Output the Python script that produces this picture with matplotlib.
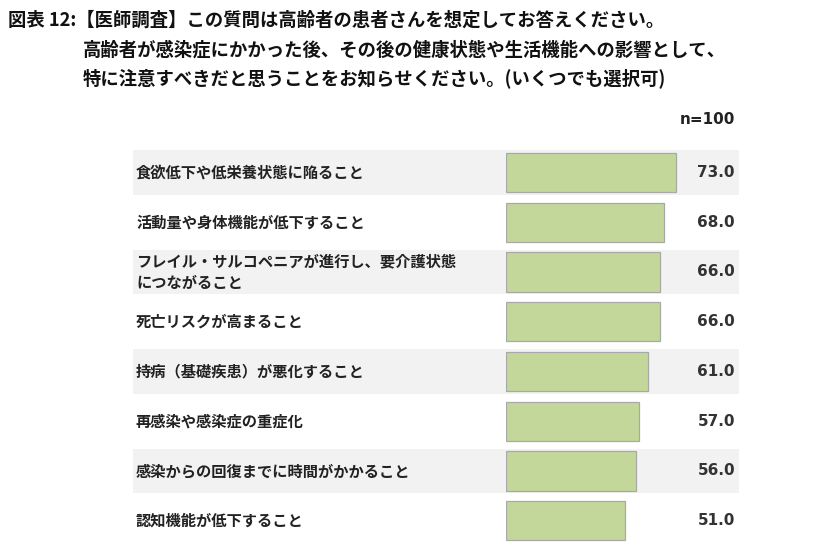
import matplotlib
matplotlib.use("Agg")
import matplotlib.pyplot as plt

plt.rcParams['font.family'] = ['Noto Sans CJK JP', 'DejaVu Sans']

# data
labels = [
    "食欲低下や低栄養状態に陥ること",
    "活動量や身体機能が低下すること",
    "フレイル・サルコペニアが進行し、要介護状態\nにつながること",
    "死亡リスクが高まること",
    "持病（基礎疾患）が悪化すること",
    "再感染や感染症の重症化",
    "感染からの回復までに時間がかかること",
    "認知機能が低下すること",
]
values = [73.0, 68.0, 66.0, 66.0, 61.0, 57.0, 56.0, 51.0]
n_label = "n=100"
title_lines = [
    "図表 12:【医師調査】この質問は高齢者の患者さんを想定してお答えください。",
    "高齢者が感染症にかかった後、その後の健康状態や生活機能への影響として、",
    "特に注意すべきだと思うことをお知らせください。(いくつでも選択可)",
]

W, H = 840, 557
fig = plt.figure(figsize=(W / 100, H / 100), dpi=100)

# plot area in pixels: bar zero at x0, 100% at x1
x0, x1 = 506, 739
top = 147.6
pitch = 49.75
n = len(values)
ax = fig.add_axes([x0 / W, 1 - (top + n * pitch) / H, (x1 - x0) / W, n * pitch / H])
ax.set_xlim(0, 100)
ax.set_ylim(n - 0.5, -0.5)
ax.axis('off')

band_left = (133 - x0) / (x1 - x0)
for i in range(0, n, 2):
    ax.axhspan(i - 0.45, i + 0.45, xmin=band_left, xmax=1,
               color='#F2F2F2', clip_on=False, zorder=0, lw=0)

ax.barh(range(n), values, height=0.79, color='#C4D79B',
        edgecolor='#A8A8A8', linewidth=0.9, zorder=2)

ytr = ax.get_yaxis_transform()
label_x = (136 - x0) / (x1 - x0)
value_x = (735 - x0) / (x1 - x0)
for i, (lab, v) in enumerate(zip(labels, values)):
    ax.text(label_x, i, lab, transform=ytr, ha='left', va='center',
            fontsize=11, fontweight='bold', color='#222222',
            linespacing=1.4, clip_on=False)
    ax.text(value_x, i, f"{v:.1f}", transform=ytr, ha='right', va='center',
            fontsize=11, fontweight='bold', color='#333333',
            family='DejaVu Sans', clip_on=False)

fig.text(735 / W, 1 - 120 / H, n_label, ha='right', va='center',
         fontsize=11, fontweight='bold', color='#222222', family='DejaVu Sans')

title_pos = [(8, 20), (83, 50), (83, 78)]
for (tx, ty), line in zip(title_pos, title_lines):
    fig.text(tx / W, 1 - ty / H, line, ha='left', va='center',
             fontsize=13.2, fontweight='bold', color='#111111')

fig.savefig("out.png", dpi=100, facecolor='white')
